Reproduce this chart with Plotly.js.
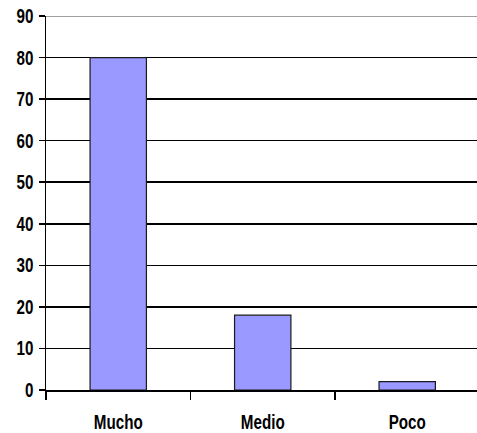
<!DOCTYPE html>
<html>
<head>
<meta charset="utf-8">
<script src="https://cdn.plot.ly/plotly-3.0.1.min.js"></script>
<style>
  html, body { margin: 0; padding: 0; background: #ffffff; }
  #chart { width: 477px; height: 433px; }
</style>
</head>
<body>
<div id="chart"></div>
<script>
// Categories and their values
const categories = ["Mucho", "Medio", "Poco"];
const values = [80, 18, 2];
const yTicks = [0, 10, 20, 30, 40, 50, 60, 70, 80, 90];

const labelFont = {
  family: "'Liberation Sans Narrow', 'Arial Narrow', 'Liberation Sans', Arial, sans-serif",
  size: 20,
  color: "#000000",
  weight: 700
};

// horizontal squeeze that gives the labels a narrow look
const LABEL_SQUEEZE = 0.76;

const trace = {
  type: "bar",
  x: categories,
  y: values,
  width: 0.39,
  marker: {
    color: "#9999ff",
    line: { color: "#1a1a1a", width: 1.2 }
  },
  hoverinfo: "x+y"
};

const layout = {
  width: 477,
  height: 433,
  margin: { l: 46, r: 0, t: 16, b: 43, pad: 0 },
  paper_bgcolor: "#ffffff",
  plot_bgcolor: "#ffffff",
  showlegend: false,
  font: labelFont,
  xaxis: {
    type: "category",
    range: [-0.5, 2.483],
    showgrid: false,
    showline: true,
    linecolor: "#000000",
    linewidth: 1.5,
    ticks: "outside",
    tickson: "boundaries",
    ticklen: 8,
    tickwidth: 1.5,
    tickcolor: "#000000",
    tickfont: labelFont,
    ticklabelstandoff: 14,
    zeroline: false,
    fixedrange: true
  },
  yaxis: {
    range: [0, 90],
    tickmode: "array",
    tickvals: yTicks,
    ticktext: yTicks.map(String),
    showgrid: true,
    gridcolor: "#000000",
    gridwidth: 1.5,
    showline: true,
    linecolor: "#000000",
    linewidth: 1.5,
    ticks: "outside",
    ticklen: 6,
    tickwidth: 1.5,
    tickcolor: "#000000",
    tickfont: labelFont,
    ticklabelstandoff: 1,
    zeroline: false,
    fixedrange: true
  },
  shapes: [
    // lighter rule along the top of the plot area
    {
      type: "line", xref: "paper", yref: "y",
      x0: 0, x1: 1, y0: 90, y1: 90,
      line: { color: "#a0a0a0", width: 2 },
      layer: "above"
    }
  ]
};

function squeezeLabels(gd) {
  gd.querySelectorAll(".xtick text, .ytick text").forEach(function (t) {
    const x0 = parseFloat(t.getAttribute("x") || "0");
    const base = t.getAttribute("transform") || "";
    t.setAttribute("transform",
      base + " translate(" + x0 + ",0) scale(" + LABEL_SQUEEZE + ",1) translate(" + (-x0) + ",0)");
  });
}

Plotly.newPlot("chart", [trace], layout, { displayModeBar: false, staticPlot: true })
  .then(squeezeLabels);
</script>
</body>
</html>
